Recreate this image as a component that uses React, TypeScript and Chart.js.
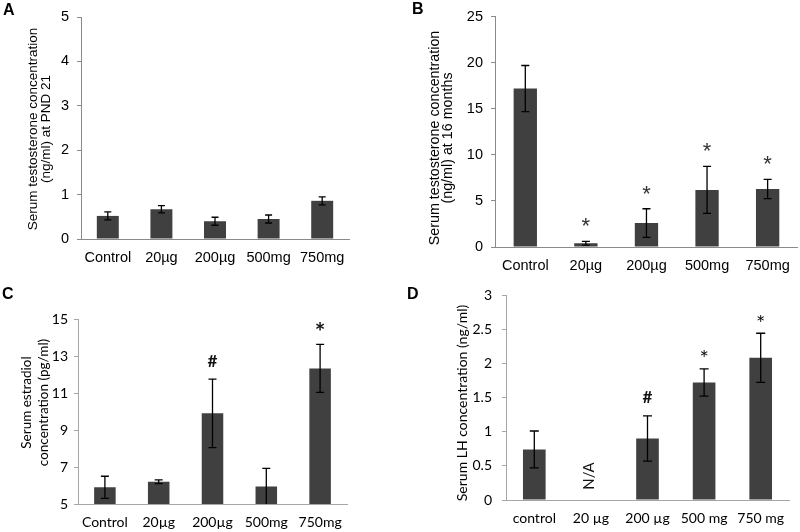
import React, { useEffect, useRef } from "react";
import { Chart, registerables } from "chart.js";

Chart.register(...registerables);

// ---------------- data ----------------
const categoriesA = ["Control", "20µg", "200µg", "500mg", "750mg"];
const valuesA = [0.52, 0.67, 0.4, 0.45, 0.86];
const errorsA = [0.09, 0.08, 0.09, 0.09, 0.09];
const marksA = ["", "", "", "", ""];
const titleA = ["Serum testosterone concentration", "(ng/ml) at PND 21"];

const categoriesB = ["Control", "20µg", "200µg", "500mg", "750mg"];
const valuesB = [17.2, 0.4, 2.6, 6.2, 6.3];
const errorsB = [2.5, 0.2, 1.55, 2.55, 1.05];
const marksB = ["", "*", "*", "*", "*"];
const titleB = ["Serum testosterone concentration", "(ng/ml) at 16 months"];

const categoriesC = ["Control", "20µg", "200µg", "500mg", "750mg"];
const valuesC = [5.9, 6.2, 9.9, 5.95, 12.33];
const errorsC = [0.6, 0.1, 1.85, 0.98, 1.3];
const marksC = ["", "", "#", "", "*"];
const titleC = ["Serum estradiol", "concentration (pg/ml)"];

const categoriesD = ["control", "20 µg", "200 µg", "500 mg", "750 mg"];
const valuesD: (number | null)[] = [0.74, null, 0.9, 1.72, 2.08];
const errorsD: (number | null)[] = [0.27, null, 0.33, 0.2, 0.36];
const marksD = ["", "", "#", "*", "*"];
const missingD = ["", "N/A", "", "", ""];
const titleD = ["Serum LH concentration (ng/ml)"];

// ---------------- styling ----------------
const ARIAL = "'Liberation Sans', Arial, sans-serif";
const CALIBRI = "Lato, 'Noto Sans', sans-serif";
const BAR = "#404040";

interface PanelCfg {
  letter: string;
  left: number;
  top: number;
  height: number;
  labels: string[];
  values: (number | null)[];
  errors: (number | null)[];
  marks: string[];
  missing?: string[];
  min: number;
  max: number;
  step: number;
  title: string[];
  area: { l: number; t: number; r: number; b: number };
  barPct: number;
  font: string;
  tickSize: number;
  titleSize: number;
  titleX: number[];
  titleY: number;
  letterX: number;
  letterY: number;
  tickPad: number;
  xPad: number;
  axisColor: string;
  capW: number;
  markGap: number[];
  markFont: string[];
  markColor: string;
}

const panels: PanelCfg[] = [
  {
    letter: "A", left: 0, top: 0, height: 266,
    labels: categoriesA, values: valuesA, errors: errorsA, marks: marksA,
    min: 0, max: 5, step: 1, title: titleA,
    area: { l: 81, t: 17, r: 349, b: 239 }, barPct: 0.41,
    font: ARIAL, tickSize: 14.5, titleSize: 13.5,
    titleX: [32, 47], titleY: 129, letterX: 3, letterY: 15,
    tickPad: 8, xPad: 10, axisColor: "#8a8a8a", capW: 7, markGap: [18, 18],
    markFont: [`22px ${ARIAL}`, `22px ${ARIAL}`], markColor: "#333",
  },
  {
    letter: "B", left: 400, top: 0, height: 290,
    labels: categoriesB, values: valuesB, errors: errorsB, marks: marksB,
    min: 0, max: 25, step: 5, title: titleB,
    area: { l: 95, t: 11, r: 398, b: 247 }, barPct: 0.385,
    font: ARIAL, tickSize: 14.5, titleSize: 14.3,
    titleX: [33, 48], titleY: 138, letterX: 12, letterY: 14,
    tickPad: 8, xPad: 10, axisColor: "#8a8a8a", capW: 8, markGap: [19, 19],
    markFont: [`22px ${ARIAL}`, `22px ${ARIAL}`], markColor: "#333",
  },
  {
    letter: "C", left: 0, top: 266, height: 266,
    labels: categoriesC, values: valuesC, errors: errorsC, marks: marksC,
    min: 5, max: 15, step: 2, title: titleC,
    area: { l: 78, t: 53, r: 347, b: 238 }, barPct: 0.4,
    font: CALIBRI, tickSize: 14, titleSize: 13.5,
    titleX: [26, 43], titleY: 136.5, letterX: 2, letterY: 33,
    tickPad: 6, xPad: 10, axisColor: "#a6a6a6", capW: 8, markGap: [18, 18],
    markFont: [`bold 17px ${CALIBRI}`, `bold 25px ${CALIBRI}`], markColor: "#111",
  },
  {
    letter: "D", left: 400, top: 266, height: 266,
    labels: categoriesD, values: valuesD, errors: errorsD, marks: marksD, missing: missingD,
    min: 0, max: 3, step: 0.5, title: titleD,
    area: { l: 106, t: 29, r: 389, b: 234 }, barPct: 0.4,
    font: CALIBRI, tickSize: 14, titleSize: 14,
    titleX: [62], titleY: 137, letterX: 7, letterY: 33,
    tickPad: 10, xPad: 10, axisColor: "#a6a6a6", capW: 9, markGap: [18.5, 15],
    markFont: [`bold 17px ${CALIBRI}`, `22px ${CALIBRI}`], markColor: "#111",
  },
];

function drawCentered(ctx: CanvasRenderingContext2D, text: string, cx: number, cy: number) {
  const m = ctx.measureText(text);
  const asc = m.actualBoundingBoxAscent;
  const desc = m.actualBoundingBoxDescent;
  ctx.textAlign = "center";
  ctx.textBaseline = "alphabetic";
  ctx.fillText(text, cx, cy + (asc - desc) / 2);
}

const extrasPlugin = {
  id: "extras",
  afterDatasetsDraw(chart: any, _args: any, opts: any) {
    const cfg: PanelCfg = opts.cfg;
    const ctx: CanvasRenderingContext2D = chart.ctx;
    const ys = chart.scales.y;
    const meta = chart.getDatasetMeta(0);
    const area = chart.chartArea;

    // error bars (clipped at the axis)
    ctx.save();
    ctx.beginPath();
    ctx.rect(0, 0, chart.width, area.bottom);
    ctx.clip();
    ctx.strokeStyle = "#000";
    ctx.lineWidth = 1.3;
    cfg.values.forEach((v, i) => {
      const e = cfg.errors[i];
      if (v == null || e == null) return;
      const x = meta.data[i].x;
      const yTop = ys.getPixelForValue(v + e);
      const yBot = ys.getPixelForValue(v - e);
      ctx.beginPath();
      ctx.moveTo(x, yTop);
      ctx.lineTo(x, yBot);
      ctx.moveTo(x - cfg.capW / 2, yTop);
      ctx.lineTo(x + cfg.capW / 2, yTop);
      ctx.moveTo(x - cfg.capW / 2, yBot);
      ctx.lineTo(x + cfg.capW / 2, yBot);
      ctx.stroke();
    });
    ctx.restore();

    // significance marks
    ctx.save();
    ctx.fillStyle = cfg.markColor;
    cfg.marks.forEach((mk, i) => {
      const v = cfg.values[i];
      const e = cfg.errors[i];
      if (!mk || v == null) return;
      const k = mk === "#" ? 0 : 1;
      ctx.font = cfg.markFont[k];
      const x = meta.data[i].x;
      const y = ys.getPixelForValue(v + (e || 0)) - cfg.markGap[k];
      drawCentered(ctx, mk, x, y);
    });
    ctx.restore();

    // missing-data labels
    if (cfg.missing) {
      ctx.save();
      ctx.fillStyle = "#111";
      ctx.font = `15px ${cfg.font}`;
      cfg.missing.forEach((t, i) => {
        if (!t) return;
        const x = meta.data[i].x - 2;
        const y = ys.getPixelForValue(cfg.min) - 24;
        ctx.save();
        ctx.translate(x, y);
        ctx.rotate(-Math.PI / 2);
        drawCentered(ctx, t, 0, 0);
        ctx.restore();
      });
      ctx.restore();
    }
  },
  afterDraw(chart: any, _args: any, opts: any) {
    const cfg: PanelCfg = opts.cfg;
    const ctx: CanvasRenderingContext2D = chart.ctx;
    ctx.save();
    ctx.fillStyle = "#000";
    ctx.font = `${cfg.titleSize}px ${cfg.font}`;
    cfg.title.forEach((line, k) => {
      ctx.save();
      ctx.translate(cfg.titleX[k], cfg.titleY);
      ctx.rotate(-Math.PI / 2);
      drawCentered(ctx, line, 0, 0);
      ctx.restore();
    });
    ctx.font = `bold 16px ${ARIAL}`;
    ctx.textAlign = "left";
    ctx.textBaseline = "alphabetic";
    ctx.fillText(cfg.letter, cfg.letterX, cfg.letterY);
    ctx.restore();
  },
};

function Panel({ cfg }: { cfg: PanelCfg }) {
  const ref = useRef<HTMLCanvasElement>(null);
  useEffect(() => {
    if (!ref.current) return;
    const chart = new Chart(ref.current, {
      type: "bar",
      data: {
        labels: cfg.labels,
        datasets: [
          {
            data: cfg.values as any,
            backgroundColor: BAR,
            borderWidth: 0,
            categoryPercentage: 1,
            barPercentage: cfg.barPct,
          },
        ],
      },
      options: {
        animation: false,
        responsive: false,
        devicePixelRatio: 1,
        layout: {
          padding: { left: 0, top: cfg.area.t, right: 400 - cfg.area.r, bottom: 0 },
        },
        plugins: {
          legend: { display: false },
          tooltip: { enabled: false },
          extras: { cfg },
        } as any,
        scales: {
          x: {
            grid: { display: false, drawTicks: false },
            border: { display: true, color: cfg.axisColor, width: 1 },
            ticks: {
              color: "#000",
              font: { family: cfg.font, size: cfg.tickSize },
              padding: cfg.xPad,
              maxRotation: 0,
              autoSkip: false,
            },
            afterFit: (s: any) => {
              s.height = cfg.height - cfg.area.b;
            },
          },
          y: {
            min: cfg.min,
            max: cfg.max,
            grid: {
              drawOnChartArea: false,
              drawTicks: true,
              tickLength: 4,
              color: cfg.axisColor,
            },
            border: { display: true, color: cfg.axisColor, width: 1 },
            ticks: {
              stepSize: cfg.step,
              color: "#000",
              font: { family: cfg.font, size: cfg.tickSize },
              padding: cfg.tickPad,
              callback: (v: any) => String(v),
            },
            afterFit: (s: any) => {
              s.width = cfg.area.l;
            },
          },
        },
      },
      plugins: [extrasPlugin as any],
    });
    return () => chart.destroy();
  }, [cfg]);
  return (
    <canvas
      ref={ref}
      width={400}
      height={cfg.height}
      style={{ position: "absolute", left: cfg.left, top: cfg.top, width: 400, height: cfg.height }}
    />
  );
}

export default function App() {
  return (
    <div
      style={{
        position: "fixed",
        left: 0,
        top: 0,
        width: 800,
        height: 532,
        background: "#fff",
        overflow: "hidden",
      }}
    >
      {panels.map((p) => (
        <Panel key={p.letter} cfg={p} />
      ))}
    </div>
  );
}
